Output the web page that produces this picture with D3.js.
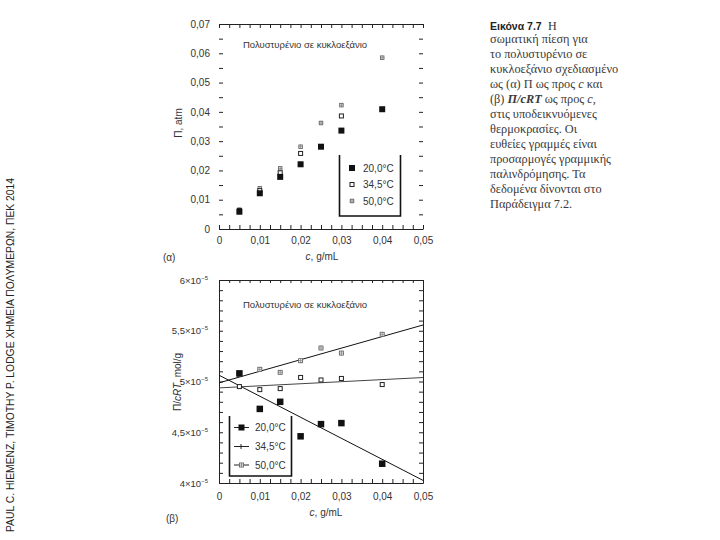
<!DOCTYPE html>
<html><head><meta charset="utf-8">
<script src="https://cdn.jsdelivr.net/npm/d3@7"></script>
<style>
body{margin:0;background:#fff}
svg{display:block}
text{fill:#333}
.sans{font-family:"Liberation Sans",Arial,sans-serif}
.serif{font-family:"Liberation Serif","Times New Roman",serif}
.ax path,.ax line{stroke:#222;stroke-width:1}
.ax text{font-size:10px;fill:#333;font-family:"Liberation Sans",Arial,sans-serif}
</style>
</head><body><svg id="c" width="720" height="540"></svg>
<script>
// ---------- data ----------
const concentrations = [0.005, 0.01, 0.015, 0.02, 0.025, 0.03, 0.04];
const seriesNames = ["20,0°C", "34,5°C", "50,0°C"];
// (a) osmotic pressure, atm (null = not visible in the figure)
const osmotic20  = [0.0059, 0.0122, 0.0178, 0.0221, 0.0281, 0.0336, 0.0409];
const osmotic345 = [0.0063, 0.0131, 0.0192, 0.0258, null,   0.0386, null];
const osmotic50  = [0.0066, 0.0139, 0.0207, 0.0281, 0.0362, 0.0423, 0.0585];
// (b) reduced osmotic pressure Π/cRT, in units of 10^-5 mol/g
const reduced20  = [5.08, 4.73, 4.80, 4.46, 4.58, 4.59, 4.19];
const reduced345 = [4.95, 4.92, 4.93, 5.04, 5.015, 5.03, 4.97];
const reduced50  = [5.07, 5.12, 5.09, 5.205, 5.33, 5.28, 5.465];
// ticks
const xTickValues = [0, 0.01, 0.02, 0.03, 0.04, 0.05];
const xTickLabels = ["0", "0,01", "0,02", "0,03", "0,04", "0,05"];
const yTickValuesA = [0, 0.01, 0.02, 0.03, 0.04, 0.05, 0.06, 0.07];
const yTickLabelsA = ["0", "0,01", "0,02", "0,03", "0,04", "0,05", "0,06", "0,07"];
const yTickValuesB = [4, 4.5, 5, 5.5, 6];
const yTickMantissaB = ["4", "4,5", "5", "5,5", "6"];
const titleText = "Πολυστυρένιο σε κυκλοεξάνιο";
const creditText = "PAUL C. HIEMENZ, TIMOTHY P. LODGE ΧΗΜΕΙΑ ΠΟΛΥΜΕΡΩΝ, ΠΕΚ 2014";
const captionLines = [
  "σωματική πίεση για",
  "το πολυστυρένιο σε",
  "κυκλοεξάνιο σχεδιασμένο",
  "ως (α) Π ως προς c και",
  "(β) Π/cRT ως προς c,",
  "στις υποδεικνυόμενες",
  "θερμοκρασίες. Οι",
  "ευθείες γραμμές είναι",
  "προσαρμογές γραμμικής",
  "παλινδρόμησης. Τα",
  "δεδομένα δίνονται στο",
  "Παράδειγμα 7.2."
];

const svg = d3.select("#c");
const fmtIdx = (vals, labels) => v => { const i = vals.findIndex(t => Math.abs(t - v) < 1e-9); return i >= 0 ? labels[i] : ""; };
const minorX = d3.range(0, 0.05001, 0.0025);

// ---------- marker helpers ----------
function marker(g, kind, cx, cy, s) {
  const h = s / 2;
  if (kind === 0) {
    g.append("rect").attr("x", cx - h).attr("y", cy - h).attr("width", s).attr("height", s).attr("fill", "#111");
  } else if (kind === 1) {
    g.append("rect").attr("x", cx - h + 0.5).attr("y", cy - h + 0.5).attr("width", s - 1).attr("height", s - 1)
      .attr("fill", "#fff").attr("stroke", "#222").attr("stroke-width", 1);
  } else {
    g.append("rect").attr("x", cx - h + 0.5).attr("y", cy - h + 0.5).attr("width", s - 1).attr("height", s - 1)
      .attr("fill", "#fff").attr("stroke", "#666").attr("stroke-width", 0.9);
    g.append("path").attr("d", `M${cx},${cy - h}V${cy + h}M${cx - h},${cy}H${cx + h}`).attr("stroke", "#777").attr("stroke-width", 0.7);
  }
}

// ================= (a) =================
const xA = d3.scaleLinear().domain([0, 0.05]).range([219, 423]);
const yA = d3.scaleLinear().domain([0, 0.07]).range([229, 24]);
const minorYA = d3.range(0, 0.07001, 0.005);

svg.append("g").attr("class", "ax").attr("transform", "translate(0,229)")
  .call(d3.axisBottom(xA).tickValues(minorX).tickSizeInner(-4).tickSizeOuter(0).tickPadding(8).tickFormat(fmtIdx(xTickValues, xTickLabels)));
svg.append("g").attr("class", "ax").attr("transform", "translate(0,24)")
  .call(d3.axisTop(xA).tickValues(minorX).tickSizeInner(-4).tickSizeOuter(0).tickFormat(""));
const lA = svg.append("g").attr("class", "ax").attr("transform", "translate(219,0)")
  .call(d3.axisLeft(yA).tickValues(minorYA).tickSizeInner(-4).tickSizeOuter(0).tickPadding(9).tickFormat(fmtIdx(yTickValuesA, yTickLabelsA)));
lA.select(".domain").remove();
const rA = svg.append("g").attr("class", "ax").attr("transform", "translate(423,0)")
  .call(d3.axisRight(yA).tickValues(minorYA).tickSizeInner(-4).tickSizeOuter(0).tickFormat(""));
rA.select(".domain").remove();

svg.append("text").attr("class", "sans").attr("x", 243).attr("y", 48).attr("font-size", 9.5).text(titleText);

const gA = svg.append("g");
[[osmotic50, 2, 4.5], [osmotic345, 1, 5], [osmotic20, 0, 6]].forEach(([arr, k, s]) => {
  arr.forEach((v, i) => { if (v != null) marker(gA, k, xA(concentrations[i]), yA(v), s); });
});

// legend (a)
const legA = svg.append("g");
legA.append("path").attr("d", "M339.5,155V216H400.5V155").attr("fill", "none").attr("stroke", "#111").attr("stroke-width", 1.6);
seriesNames.forEach((n, i) => {
  const yy = [168, 184.5, 201][i];
  marker(legA, i, 352, yy, i === 0 ? 6 : (i === 2 ? 4.5 : 5));
  legA.append("text").attr("class", "sans").attr("x", 363).attr("y", yy + 3.5).attr("font-size", 10).text(n);
});

// axis titles (a)
svg.append("text").attr("class", "sans").attr("x", 322).attr("y", 260).attr("text-anchor", "middle").attr("font-size", 10)
  .html('<tspan font-style="italic">c</tspan>, g/mL');
svg.append("text").attr("class", "sans").attr("transform", "translate(182,123) rotate(-90)").attr("text-anchor", "middle").attr("font-size", 10)
  .text("Π, atm");
svg.append("text").attr("class", "sans").attr("x", 163).attr("y", 261).attr("font-size", 10).text("(α)");

// ================= (b) =================
const xB = d3.scaleLinear().domain([0, 0.05]).range([219, 423]);
const yB = d3.scaleLinear().domain([4, 6]).range([483, 280]);
const minorYB = d3.range(4, 6.0001, 0.1);

svg.append("g").attr("class", "ax").attr("transform", "translate(0,483)")
  .call(d3.axisBottom(xB).tickValues(minorX).tickSizeInner(-4).tickSizeOuter(0).tickPadding(10).tickFormat(fmtIdx(xTickValues, xTickLabels)));
svg.append("g").attr("class", "ax").attr("transform", "translate(0,280)")
  .call(d3.axisTop(xB).tickValues(minorX).tickSizeInner(-3).tickSizeOuter(0).tickFormat(""));
svg.append("g").attr("class", "ax").attr("transform", "translate(219,0)")
  .call(d3.axisLeft(yB).tickValues(minorYB).tickSizeInner(-4).tickSizeOuter(0).tickFormat(""));
svg.append("g").attr("class", "ax").attr("transform", "translate(423,0)")
  .call(d3.axisRight(yB).tickValues(minorYB).tickSizeInner(-4).tickSizeOuter(0).tickFormat(""));

yTickValuesB.forEach((v, i) => {
  const t = svg.append("text").attr("class", "sans").attr("x", 208).attr("y", yB(v) + 3.5).attr("text-anchor", "end").attr("font-size", 9.5);
  t.append("tspan").text(yTickMantissaB[i] + "×10");
  t.append("tspan").attr("dy", -4).attr("font-size", 6).text("−5");
});

svg.append("text").attr("class", "sans").attr("x", 243).attr("y", 308).attr("font-size", 9.5).text(titleText);

// regression lines
function fit(ys) {
  const xs = concentrations;
  const mx = d3.mean(xs), my = d3.mean(ys);
  const sxy = d3.sum(xs, (x, i) => (x - mx) * (ys[i] - my));
  const sxx = d3.sum(xs, x => (x - mx) * (x - mx));
  const b = sxy / sxx;
  return [b, my - b * mx];
}
svg.append("clipPath").attr("id", "clipB").append("rect").attr("x", 219).attr("y", 280).attr("width", 204).attr("height", 203);
const gB = svg.append("g");
const lines = gB.append("g").attr("clip-path", "url(#clipB)");
[[reduced20, "#111"], [reduced345, "#444"], [reduced50, "#111"]].forEach(([arr, col]) => {
  const [b, a] = fit(arr);
  lines.append("line").attr("x1", xB(0)).attr("y1", yB(a)).attr("x2", xB(0.05)).attr("y2", yB(a + b * 0.05))
    .attr("stroke", col).attr("stroke-width", 1);
});
[[reduced50, 2, 5], [reduced345, 1, 5], [reduced20, 0, 6.5]].forEach(([arr, k, s]) => {
  arr.forEach((v, i) => marker(gB, k, xB(concentrations[i]), yB(v), s));
});

// legend (b)
const legB = svg.append("g");
legB.append("rect").attr("x", 229).attr("y", 416).attr("width", 63).attr("height", 60).attr("fill", "#fff");
legB.append("path").attr("d", "M229.5,416V476H291.5V416").attr("fill", "none").attr("stroke", "#111").attr("stroke-width", 1.6);
seriesNames.forEach((n, i) => {
  const yy = [427.5, 446.5, 465][i];
  legB.append("line").attr("x1", 234).attr("x2", 249).attr("y1", yy).attr("y2", yy).attr("stroke", "#222").attr("stroke-width", 1);
  if (i === 1) legB.append("line").attr("x1", 241).attr("x2", 241).attr("y1", yy - 2.5).attr("y2", yy + 2.5).attr("stroke", "#222");
  else marker(legB, i, 241.5, yy, i === 0 ? 6 : 5);
  legB.append("text").attr("class", "sans").attr("x", 255).attr("y", yy + 3.5).attr("font-size", 10).text(n);
});

svg.append("text").attr("class", "sans").attr("x", 326).attr("y", 516).attr("text-anchor", "middle").attr("font-size", 10)
  .html('<tspan font-style="italic">c</tspan>, g/mL');
svg.append("text").attr("class", "sans").attr("transform", "translate(181,382) rotate(-90)").attr("text-anchor", "middle").attr("font-size", 10)
  .html('Π/<tspan font-style="italic">cRT</tspan>, mol/g');
svg.append("text").attr("class", "sans").attr("x", 166).attr("y", 522).attr("font-size", 10).text("(β)");

// ================= credit & caption =================
svg.append("text").attr("class", "sans").attr("transform", "translate(14,532) rotate(-90)").attr("font-size", 10).style("fill", "#222")
  .attr("textLength", 354).attr("lengthAdjust", "spacingAndGlyphs").text(creditText);

const cap = svg.append("g");
const first = cap.append("text").attr("x", 490).attr("y", 30);
first.append("tspan").attr("class", "sans").attr("font-weight", "bold").attr("font-size", 10.5).style("fill", "#222").text("Εικόνα 7.7");
first.append("tspan").attr("class", "serif").attr("x", 548).attr("font-size", 12).text("Η");
captionLines.forEach((s, i) => {
  const html = s
    .replace("Π/cRT", '<tspan font-weight="bold" font-style="italic">Π/cRT</tspan>')
    .replace(/ c( |,|$)/g, ' <tspan font-style="italic">c</tspan>$1');
  cap.append("text").attr("class", "serif").attr("x", 490).attr("y", 43 + i * 15)
    .attr("font-size", 12.3).style("fill", "#3a3a3a").html(html);
});
</script>
</body></html>
